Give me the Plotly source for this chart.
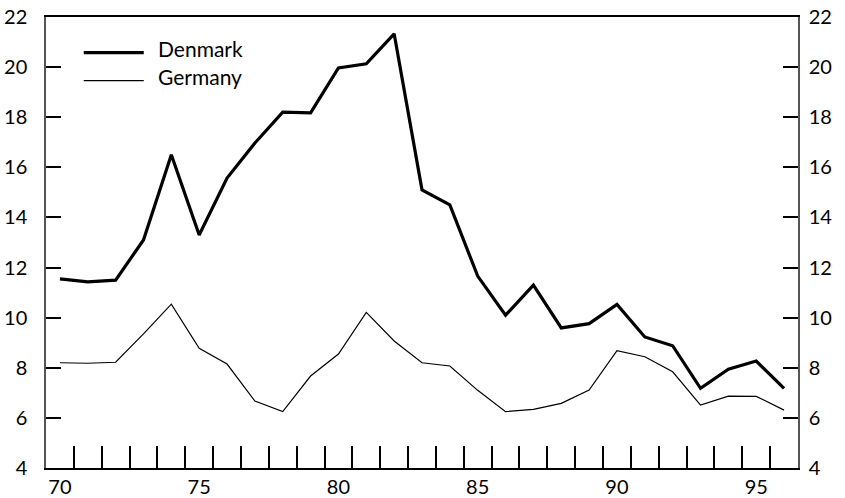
import plotly.graph_objects as go

years = list(range(1970, 1997))
year_labels = [y - 1900 for y in years]
denmark = [11.55, 11.43, 11.50, 13.1, 16.5, 13.3, 15.57, 16.97, 18.2, 18.17, 19.97, 20.13, 21.33,
           15.1, 14.5, 11.66, 10.1, 11.3, 9.59, 9.76, 10.53, 9.23, 8.88, 7.18, 7.94, 8.27, 7.18]
germany = [8.2, 8.18, 8.22, 9.35, 10.54, 8.78, 8.15, 6.67, 6.25, 7.67, 8.55, 10.21, 9.07,
           8.2, 8.07, 7.1, 6.25, 6.34, 6.58, 7.11, 8.68, 8.44, 7.84, 6.51, 6.87, 6.86, 6.31]
x_tick_labels = [70, 75, 80, 85, 90, 95]
y_ticks = [4, 6, 8, 10, 12, 14, 16, 18, 20, 22]
series_names = ["Denmark", "Germany"]

FONT = "Lato, 'Open Sans', sans-serif"
FS = 20

fig = go.Figure()
fig.add_trace(go.Scatter(x=year_labels, y=denmark, mode="lines", name=series_names[0],
                         line=dict(color="black", width=3.2), showlegend=False))
fig.add_trace(go.Scatter(x=year_labels, y=germany, mode="lines", name=series_names[1],
                         line=dict(color="black", width=1.2), showlegend=False))
# invisible trace to activate right axis
fig.add_trace(go.Scatter(x=[year_labels[0]], y=[denmark[0]], yaxis="y2", mode="lines",
                         line=dict(width=0), showlegend=False, hoverinfo="skip"))

fig.update_layout(
    width=845, height=498,
    margin=dict(l=46, r=47, t=17, b=30),
    plot_bgcolor="white", paper_bgcolor="white",
    font=dict(family=FONT, size=FS, color="black"),
    xaxis=dict(range=[69.5, 96.5], tickvals=x_tick_labels, ticks="", showgrid=False,
               zeroline=False, showline=True, linecolor="black", linewidth=1.5, mirror=True,
               tickfont=dict(size=FS), ticklabelstandoff=0, automargin=False,
               ticklabeloverflow="allow",
               minor=dict(tickvals=[v + 0.5 for v in range(70, 96)], ticks="inside",
                          ticklen=22, tickwidth=1.5, tickcolor="black", showgrid=False)),
    yaxis=dict(range=[4, 22], tickvals=y_ticks, ticks="inside", ticklen=15, tickwidth=1.5,
               tickcolor="black", showgrid=False, zeroline=False, showline=True,
               linecolor="#555", linewidth=1.5, ticklabelstandoff=13, automargin=False,
               ticklabeloverflow="allow", tickfont=dict(size=FS)),
    yaxis2=dict(range=[4, 22], tickvals=y_ticks, ticks="inside", ticklen=15, tickwidth=1.5,
                tickcolor="black", showgrid=False, zeroline=False, showline=True,
                linecolor="#555", linewidth=1.5, overlaying="y", side="right",
                ticklabelstandoff=5, automargin=False, ticklabeloverflow="allow",
                tickfont=dict(size=FS)),
)

# legend drawn manually (long sample lines as in the original)
legend_line_y = [0.9208, 0.8588]
legend_text_y = [0.931, 0.869]
widths = [3.2, 1.2]
for name, ly, ty, w in zip(series_names, legend_line_y, legend_text_y, widths):
    fig.add_shape(type="line", xref="paper", yref="paper", x0=0.0502, x1=0.1300, y0=ly, y1=ly,
                  line=dict(color="black", width=w))
    fig.add_annotation(text=name, xref="paper", yref="paper", x=0.1463, y=ty, xanchor="left",
                       yanchor="middle", showarrow=False, font=dict(family=FONT, size=21))

fig.write_html("out.html", config={"displayModeBar": False},
               post_script="document.body.style.margin='0';")
